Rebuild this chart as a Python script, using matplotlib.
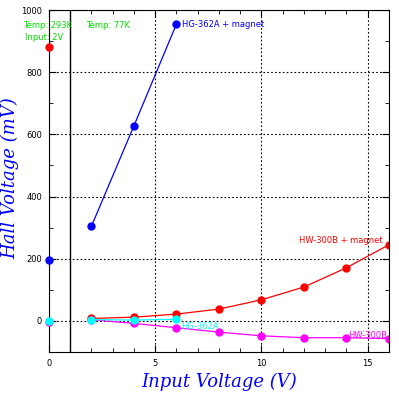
import matplotlib
matplotlib.use("Agg")
import matplotlib.pyplot as plt
from matplotlib.ticker import MultipleLocator

# room temperature reference points (x = 0)
rt_x = [0]
rt_hg_magnet = [197]
rt_hw_magnet = [880]
rt_hg = [0]
rt_hw = [-4]

# 77K measurements
hg_magnet_x = [2, 4, 6]
hg_magnet_y = [305, 628, 955]

hw_magnet_x = [2, 4, 6, 8, 10, 12, 14, 16]
hw_magnet_y = [8, 12, 22, 38, 68, 109, 171, 245]

hg_x = [2, 4, 6]
hg_y = [4, 3, 5]

hw_x = [2, 4, 6, 8, 10, 12, 14, 16]
hw_y = [4, -8, -22, -36, -48, -54, -54, -57]

fig = plt.figure(figsize=(3.99, 3.99), dpi=100)
ax = fig.add_axes([0.1228, 0.1178, 0.852, 0.857])

ms = 5
ax.plot(hg_magnet_x, hg_magnet_y, '-o', color='blue', lw=0.9, ms=ms)
ax.plot(hw_magnet_x, hw_magnet_y, '-o', color='red', lw=0.9, ms=ms)
ax.plot(hw_x, hw_y, '-o', color='magenta', lw=0.9, ms=ms)
ax.plot(hg_x, hg_y, '-o', color='cyan', lw=0.9, ms=ms)

ax.plot(rt_x, rt_hg_magnet, 'o', color='blue', ms=ms, clip_on=False, zorder=5)
ax.plot(rt_x, rt_hw_magnet, 'o', color='red', ms=ms, clip_on=False, zorder=5)
ax.plot(rt_x, rt_hw, 'o', color='magenta', ms=ms, clip_on=False, zorder=5)
ax.plot(rt_x, rt_hg, 'o', color='cyan', ms=ms, clip_on=False, zorder=6)

ax.axvline(1, color='black', lw=1)

ax.set_xlim(0, 16)
ax.set_ylim(-100, 1000)
ax.xaxis.set_major_locator(MultipleLocator(5))
ax.xaxis.set_minor_locator(MultipleLocator(1))
ax.yaxis.set_major_locator(MultipleLocator(200))
ax.yaxis.set_minor_locator(MultipleLocator(100))
ax.tick_params(which='both', direction='in', top=True, right=True, labelsize=6, pad=5)
ax.tick_params(which='major', length=5)
ax.tick_params(which='minor', length=3)
ax.grid(which='major', color='black', linestyle=(0, (1.5, 2)), lw=0.8)

ax.text(6.25, 955, 'HG-362A + magnet', color='blue', fontsize=6, va='center')
ax.text(15.7, 258, 'HW-300B + magnet', color='red', fontsize=6, va='center', ha='right')
ax.text(6.2, -18, 'HG-362A', color='cyan', fontsize=6, va='center')
ax.text(14.1, -47, 'HW-300B', color='magenta', fontsize=6, va='center')

fig.text(23 / 399, 1 - 25 / 399, 'Temp: 293K', color='#00dd00', fontsize=6, va='center')
fig.text(25 / 399, 1 - 38 / 399, 'Input: 2V', color='#00dd00', fontsize=6, va='center')
fig.text(86 / 399, 1 - 25 / 399, 'Temp: 77K', color='#00dd00', fontsize=6, va='center')

label_font = dict(family='DejaVu Serif', style='italic', fontsize=13, color='blue')
ax.set_xlabel('Input Voltage (V)', **label_font)
ax.set_ylabel('Hall Voltage (mV)', **label_font)
ax.xaxis.set_label_coords(0.5, -0.062)
ax.yaxis.set_label_coords(-0.088, 0.509)

fig.savefig('out.png', dpi=100)
